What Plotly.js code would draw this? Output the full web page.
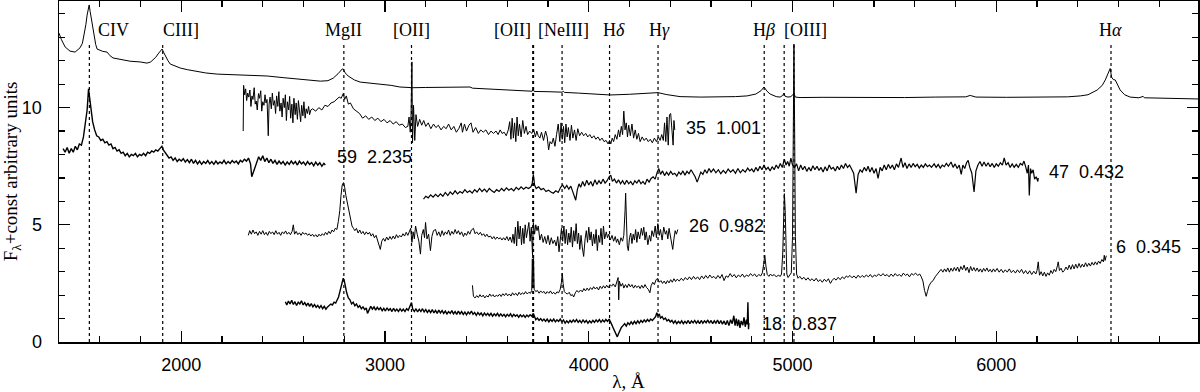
<!DOCTYPE html>
<html>
<head>
<meta charset="utf-8">
<script src="https://cdn.plot.ly/plotly-3.0.1.min.js"></script>
<style>
html, body { margin: 0; padding: 0; background: #fff; }
#chart { width: 1200px; height: 392px; }
</style>
</head>
<body>
<div id="chart"></div>
<script>
// composite spectrum (top)
const composite = [[1400,13.18],[1412,12.90],[1430,12.59],[1454,12.41],[1479,12.37],[1503,12.55],[1515,12.75],[1523,13.10],[1532,13.55],[1538,13.95],[1548,14.38],[1553,14.10],[1557,13.90],[1565,13.40],[1572,13.00],[1580,12.70],[1587,12.50],[1600,12.45],[1615,12.40],[1636,12.37],[1650,12.22],[1665,12.12],[1700,12.07],[1734,12.03],[1749,11.98],[1798,11.95],[1832,11.90],[1850,11.95],[1862,12.03],[1875,12.15],[1886,12.29],[1900,12.45],[1906,12.50],[1914,12.35],[1922,12.20],[1935,12.00],[1946,11.86],[1970,11.76],[1995,11.69],[2030,11.62],[2068,11.56],[2120,11.48],[2177,11.43],[2250,11.40],[2324,11.39],[2380,11.36],[2422,11.35],[2500,11.28],[2583,11.22],[2640,11.18],[2683,11.13],[2720,11.15],[2746,11.26],[2770,11.45],[2790,11.65],[2795,11.65],[2805,11.48],[2819,11.35],[2850,11.18],[2878,11.09],[2940,11.04],[2989,11.01],[3030,10.95],[3073,10.88],[3137,10.85],[3200,10.86],[3280,10.86],[3350,10.85],[3417,10.88],[3430,10.83],[3500,10.80],[3600,10.76],[3700,10.72],[3722,10.70],[3727,10.78],[3732,10.69],[3800,10.68],[3869,10.66],[3875,10.70],[3880,10.65],[3950,10.62],[4030,10.58],[4105,10.54],[4200,10.57],[4300,10.60],[4340,10.64],[4380,10.56],[4448,10.47],[4550,10.45],[4650,10.45],[4720,10.47],[4777,10.50],[4820,10.58],[4845,10.72],[4860,10.88],[4875,10.70],[4890,10.58],[4920,10.47],[4939,10.45],[4952,10.52],[4958,10.62],[4964,10.48],[4978,10.45],[4992,10.47],[5000,10.55],[5007,10.60],[5014,10.45],[5037,10.43],[5150,10.44],[5268,10.43],[5400,10.44],[5550,10.43],[5700,10.45],[5850,10.46],[5872,10.52],[5900,10.45],[6050,10.44],[6200,10.45],[6350,10.46],[6412,10.50],[6450,10.55],[6495,10.75],[6520,10.95],[6535,11.18],[6550,11.45],[6559,11.67],[6566,11.30],[6574,11.20],[6584,11.18],[6595,10.95],[6608,10.75],[6630,10.55],[6657,10.45],[6700,10.42],[6715,10.45],[6721,10.48],[6727,10.42],[6804,10.40],[6900,10.38],[6991,10.37]];

// object 35, z = 1.001
const spec35 = [[2304,9.00],[2306,10.95],[2311,10.55],[2316,10.80],[2321,10.30],[2326,10.62],[2331,10.45],[2337,10.75],[2342,10.05],[2347,10.50],[2352,10.35],[2358,10.85],[2363,10.15],[2368,10.28],[2373,9.90],[2379,10.60],[2384,10.40],[2390,10.72],[2395,9.85],[2400,10.25],[2406,10.10],[2411,10.55],[2416,10.20],[2421,10.35],[2427,8.80],[2431,10.15],[2436,10.45],[2442,9.95],[2447,10.62],[2452,10.10],[2458,10.30],[2463,9.75],[2468,10.50],[2474,10.05],[2479,10.68],[2484,9.85],[2490,10.20],[2495,9.60],[2500,10.40],[2506,10.00],[2511,10.55],[2516,9.45],[2521,10.25],[2527,9.90],[2532,10.48],[2537,9.55],[2543,10.15],[2548,9.35],[2553,10.40],[2559,9.70],[2564,10.20],[2570,9.50],[2575,10.30],[2580,9.80],[2586,9.40],[2591,10.10],[2597,9.65],[2602,10.25],[2608,9.55],[2613,9.95],[2619,9.75],[2625,10.05],[2630,9.70],[2636,9.90],[2645,9.95],[2660,9.85],[2675,10.00],[2690,9.90],[2705,10.10],[2720,10.05],[2735,10.20],[2750,10.25],[2765,10.35],[2775,10.45],[2785,10.40],[2795,10.60],[2802,10.35],[2810,10.50],[2820,10.15],[2830,10.20],[2845,9.95],[2860,9.85],[2875,9.75],[2890,9.55],[2905,9.65],[2920,9.50],[2935,9.60],[2950,9.45],[2965,9.55],[2980,9.40],[2995,9.50],[3010,9.35],[3025,9.45],[3040,9.30],[3055,9.40],[3070,9.25],[3085,9.30],[3100,9.15],[3112,9.20],[3118,9.60],[3124,8.95],[3128,9.75],[3132,11.95],[3135,8.50],[3140,10.10],[3146,8.60],[3152,9.70],[3160,9.20],[3170,9.50],[3180,9.25],[3190,9.45],[3200,9.20],[3212,9.35],[3225,9.10],[3238,9.30],[3250,9.15],[3262,9.25],[3275,9.05],[3288,9.20],[3300,9.10],[3312,9.30],[3325,9.05],[3338,9.20],[3350,8.95],[3362,9.10],[3374,9.35],[3380,8.95],[3390,9.30],[3400,9.00],[3412,9.25],[3422,9.35],[3432,8.95],[3445,9.15],[3458,8.90],[3470,9.05],[3482,8.95],[3495,9.05],[3508,8.85],[3520,9.00],[3532,8.90],[3545,9.00],[3555,8.85],[3565,9.05],[3575,8.90],[3585,8.95],[3595,8.80],[3605,9.05],[3612,9.40],[3618,8.65],[3624,9.55],[3630,8.70],[3636,9.35],[3642,8.55],[3648,9.60],[3654,8.80],[3660,9.30],[3668,8.75],[3676,9.45],[3684,8.90],[3692,9.20],[3700,8.85],[3710,9.00],[3720,8.90],[3730,9.05],[3738,8.75],[3745,9.00],[3752,8.80],[3760,8.70],[3768,8.95],[3778,8.60],[3788,9.00],[3796,8.75],[3803,8.20],[3810,8.55],[3818,8.45],[3826,8.70],[3834,8.35],[3842,8.85],[3850,9.30],[3858,8.55],[3864,9.35],[3870,8.65],[3876,9.20],[3882,8.50],[3888,9.30],[3894,8.75],[3900,9.15],[3908,8.60],[3915,9.25],[3922,8.70],[3930,9.05],[3938,8.60],[3946,9.10],[3955,8.80],[3965,8.95],[3975,8.80],[3985,8.90],[3995,8.75],[4005,8.85],[4015,8.70],[4025,8.80],[4035,8.65],[4045,8.75],[4055,8.60],[4065,8.70],[4075,8.55],[4085,8.60],[4095,8.45],[4102,8.60],[4108,8.45],[4115,8.70],[4122,8.55],[4130,8.85],[4138,8.65],[4146,9.05],[4152,8.75],[4160,9.20],[4166,8.85],[4172,9.85],[4178,9.05],[4184,9.35],[4190,8.75],[4196,9.25],[4204,8.80],[4212,9.30],[4220,8.70],[4228,9.05],[4236,8.65],[4244,8.90],[4252,8.55],[4262,8.75],[4272,8.60],[4282,8.70],[4292,8.55],[4302,8.65],[4312,8.50],[4322,8.70],[4332,8.55],[4342,8.75],[4350,8.60],[4358,8.85],[4366,8.60],[4372,9.35],[4378,8.55],[4384,9.60],[4390,8.40],[4396,9.70],[4402,9.75],[4408,8.80],[4414,8.40],[4418,9.45],[4422,9.05]];

// object 59, z = 2.235
const spec59 = [[1420,8.25],[1430,8.10],[1440,8.30],[1450,8.05],[1460,8.25],[1470,8.10],[1480,8.35],[1490,8.20],[1500,8.45],[1510,8.40],[1520,8.75],[1530,9.30],[1538,9.90],[1545,10.80],[1550,10.45],[1556,9.95],[1565,9.40],[1575,9.05],[1585,8.80],[1595,8.75],[1605,8.60],[1615,8.65],[1625,8.50],[1635,8.55],[1645,8.40],[1655,8.45],[1665,8.25],[1675,8.30],[1685,8.15],[1695,8.20],[1705,8.05],[1715,8.10],[1725,7.95],[1735,8.05],[1745,7.90],[1755,8.00],[1765,7.95],[1775,8.05],[1785,7.90],[1795,8.00],[1805,7.95],[1815,8.05],[1825,7.95],[1835,8.10],[1845,8.05],[1855,8.15],[1865,8.10],[1875,8.20],[1885,8.15],[1895,8.25],[1905,8.35],[1912,8.20],[1920,8.10],[1930,7.95],[1940,7.85],[1950,7.90],[1960,7.75],[1970,7.85],[1980,7.70],[1990,7.80],[2000,7.72],[2010,7.82],[2020,7.68],[2030,7.78],[2040,7.65],[2050,7.80],[2060,7.62],[2070,7.75],[2080,7.60],[2090,7.72],[2100,7.58],[2110,7.70],[2120,7.62],[2130,7.74],[2140,7.60],[2150,7.70],[2160,7.58],[2170,7.72],[2180,7.60],[2190,7.68],[2200,7.62],[2210,7.75],[2220,7.60],[2230,7.70],[2240,7.62],[2250,7.74],[2260,7.65],[2270,7.72],[2280,7.60],[2290,7.75],[2300,7.68],[2310,7.80],[2320,7.72],[2330,7.85],[2340,7.60],[2346,7.05],[2352,7.20],[2360,7.45],[2370,7.70],[2380,7.90],[2390,7.75],[2400,7.95],[2410,7.70],[2420,7.85],[2430,7.65],[2440,7.80],[2450,7.62],[2460,7.75],[2470,7.58],[2480,7.72],[2490,7.60],[2500,7.70],[2510,7.55],[2520,7.68],[2530,7.58],[2540,7.72],[2550,7.60],[2560,7.70],[2570,7.55],[2580,7.72],[2590,7.60],[2600,7.68],[2610,7.55],[2620,7.70],[2630,7.58],[2640,7.66],[2650,7.52],[2660,7.68],[2670,7.55],[2680,7.65],[2690,7.50],[2700,7.62],[2707,7.55]];

// object 47, z = 0.432
const spec47 = [[3189,6.10],[3200,6.22],[3212,6.15],[3224,6.28],[3236,6.18],[3248,6.30],[3260,6.20],[3272,6.32],[3284,6.22],[3296,6.38],[3308,6.25],[3320,6.40],[3332,6.30],[3344,6.45],[3356,6.32],[3368,6.42],[3380,6.35],[3392,6.50],[3404,6.38],[3416,6.45],[3428,6.35],[3440,6.50],[3452,6.40],[3464,6.55],[3476,6.42],[3488,6.52],[3500,6.40],[3512,6.55],[3524,6.45],[3536,6.38],[3548,6.50],[3560,6.42],[3572,6.55],[3584,6.45],[3596,6.58],[3608,6.48],[3620,6.55],[3632,6.45],[3644,6.60],[3656,6.50],[3668,6.62],[3680,6.52],[3692,6.60],[3704,6.55],[3716,6.62],[3722,6.75],[3728,7.15],[3734,6.70],[3742,6.55],[3754,6.62],[3766,6.50],[3778,6.55],[3790,6.42],[3802,6.48],[3814,6.40],[3826,6.35],[3838,6.45],[3850,6.38],[3862,6.60],[3872,6.70],[3882,6.55],[3892,6.68],[3902,6.52],[3912,6.65],[3920,6.45],[3928,6.20],[3936,6.05],[3944,6.50],[3952,6.75],[3960,6.60],[3970,6.85],[3980,6.65],[3990,6.90],[4000,6.70],[4010,6.85],[4020,6.65],[4030,6.92],[4040,6.72],[4050,6.88],[4060,6.75],[4070,6.95],[4080,6.78],[4090,6.88],[4100,7.05],[4108,7.12],[4116,6.85],[4126,6.95],[4136,6.78],[4146,6.92],[4156,6.75],[4166,6.88],[4176,6.72],[4186,6.90],[4196,6.75],[4206,6.85],[4216,6.70],[4226,6.88],[4236,6.78],[4246,6.92],[4256,6.75],[4266,6.85],[4276,6.72],[4286,6.95],[4296,6.82],[4306,6.98],[4316,7.05],[4326,6.95],[4336,7.25],[4344,7.40],[4352,7.15],[4362,7.30],[4372,7.10],[4382,7.25],[4392,7.12],[4402,7.28],[4412,7.15],[4422,7.20],[4432,7.08],[4442,7.25],[4452,7.15],[4462,7.30],[4472,7.12],[4482,7.28],[4492,7.18],[4502,7.35],[4512,7.20],[4522,7.05],[4532,6.82],[4540,7.00],[4550,7.25],[4560,7.15],[4570,7.35],[4580,7.20],[4590,7.40],[4600,7.25],[4612,7.38],[4624,7.22],[4636,7.35],[4648,7.18],[4660,7.32],[4672,7.20],[4684,7.38],[4696,7.25],[4708,7.35],[4720,7.20],[4732,7.40],[4744,7.22],[4756,7.35],[4768,7.25],[4780,7.42],[4790,7.30],[4800,7.38],[4810,7.25],[4820,7.45],[4830,7.30],[4840,7.50],[4850,7.35],[4860,7.55],[4870,7.35],[4880,7.45],[4890,7.30],[4900,7.48],[4910,7.35],[4920,7.55],[4930,7.40],[4940,7.62],[4950,7.45],[4960,7.80],[4968,7.55],[4976,7.70],[4984,7.50],[4992,7.85],[5000,7.55],[5010,7.45],[5020,7.60],[5030,7.30],[5040,7.55],[5050,7.35],[5060,7.50],[5070,7.28],[5080,7.45],[5090,7.30],[5100,7.52],[5110,7.35],[5120,7.50],[5130,7.32],[5140,7.45],[5150,7.25],[5160,7.48],[5170,7.30],[5180,7.55],[5190,7.38],[5200,7.45],[5210,7.30],[5220,7.50],[5230,7.35],[5240,7.55],[5250,7.40],[5260,7.62],[5270,7.45],[5280,7.55],[5290,7.35],[5300,7.20],[5312,6.35],[5322,7.15],[5332,7.35],[5342,7.25],[5352,7.45],[5362,7.30],[5371,7.50],[5380,7.25],[5390,7.45],[5400,7.20],[5410,7.40],[5420,6.98],[5430,7.45],[5440,7.30],[5450,7.55],[5460,7.35],[5470,7.58],[5480,7.40],[5490,7.55],[5500,7.35],[5510,7.60],[5520,7.45],[5533,7.85],[5542,7.45],[5552,7.65],[5562,7.40],[5572,7.60],[5582,7.45],[5592,7.62],[5602,7.48],[5612,7.58],[5622,7.42],[5632,7.55],[5642,7.45],[5652,7.60],[5662,7.48],[5672,7.55],[5682,7.45],[5695,7.60],[5705,7.45],[5715,7.58],[5725,7.42],[5735,7.55],[5745,7.48],[5755,7.62],[5765,7.50],[5778,7.68],[5788,7.45],[5798,7.60],[5808,7.40],[5818,7.55],[5828,7.15],[5836,7.55],[5845,7.40],[5854,7.65],[5862,7.75],[5870,7.45],[5880,7.20],[5891,6.40],[5900,7.30],[5910,7.55],[5920,7.70],[5930,7.50],[5940,7.68],[5950,7.50],[5960,7.65],[5970,7.48],[5980,7.62],[5990,7.45],[6000,7.60],[6010,7.50],[6020,7.65],[6030,7.55],[6039,7.85],[6048,7.55],[6058,7.65],[6068,7.45],[6078,7.60],[6088,7.45],[6098,7.58],[6108,7.45],[6118,7.62],[6128,7.55],[6136,7.72],[6145,7.45],[6152,7.20],[6158,7.55],[6162,6.25],[6168,7.40],[6174,7.20],[6181,7.35],[6188,6.95],[6196,7.05],[6204,6.85],[6206,7.00]];

// object 26, z = 0.982
const spec26 = [[2329,4.55],[2336,4.75],[2344,4.60],[2352,4.78],[2360,4.62],[2368,4.70],[2376,4.55],[2384,4.72],[2392,4.60],[2400,4.75],[2408,4.58],[2416,4.68],[2424,4.55],[2432,4.72],[2440,4.62],[2448,4.70],[2456,4.58],[2464,4.75],[2472,4.60],[2480,4.68],[2488,4.55],[2496,4.70],[2504,4.62],[2512,4.74],[2520,4.60],[2528,4.68],[2536,4.58],[2544,4.72],[2550,5.00],[2556,4.60],[2564,4.72],[2572,4.58],[2580,4.66],[2588,4.55],[2596,4.68],[2604,4.60],[2612,4.65],[2620,4.55],[2628,4.62],[2636,4.52],[2644,4.60],[2652,4.50],[2660,4.58],[2668,4.48],[2676,4.60],[2684,4.52],[2692,4.62],[2700,4.55],[2708,4.68],[2716,4.58],[2724,4.72],[2732,4.62],[2740,4.78],[2748,4.70],[2756,4.85],[2764,4.80],[2771,5.15],[2778,5.60],[2784,6.25],[2790,6.70],[2796,6.80],[2802,6.60],[2808,6.25],[2815,5.95],[2822,5.50],[2830,5.25],[2838,4.95],[2845,4.85],[2852,4.75],[2860,4.85],[2868,4.65],[2876,4.78],[2884,4.62],[2892,4.72],[2900,4.58],[2908,4.70],[2916,4.60],[2924,4.68],[2932,4.52],[2940,4.62],[2948,4.45],[2956,4.55],[2964,4.35],[2970,4.20],[2977,3.95],[2984,4.30],[2992,4.42],[3000,4.30],[3008,4.48],[3016,4.35],[3024,4.50],[3032,4.38],[3040,4.52],[3048,4.40],[3056,4.58],[3064,4.45],[3072,4.55],[3080,4.48],[3088,4.62],[3096,4.52],[3104,4.68],[3112,4.55],[3120,4.75],[3126,4.85],[3132,4.25],[3138,4.70],[3144,4.40],[3150,4.95],[3158,4.60],[3166,4.30],[3174,3.75],[3180,4.55],[3188,4.80],[3194,4.45],[3199,5.10],[3206,4.40],[3214,4.60],[3223,3.90],[3230,4.50],[3238,4.75],[3248,4.80],[3256,4.55],[3264,4.70],[3272,4.50],[3280,4.75],[3288,4.55],[3296,4.70],[3304,4.60],[3312,4.78],[3320,4.55],[3328,4.72],[3336,4.60],[3344,4.80],[3352,4.62],[3360,4.75],[3368,4.58],[3376,4.70],[3385,4.50],[3392,4.65],[3400,4.55],[3408,4.72],[3416,4.60],[3424,4.78],[3434,4.85],[3442,4.62],[3450,4.70],[3459,4.58],[3468,4.68],[3476,4.55],[3484,4.62],[3492,4.50],[3500,4.60],[3508,4.48],[3518,4.52],[3526,4.40],[3534,4.50],[3542,4.38],[3550,4.48],[3558,4.40],[3566,4.45],[3574,4.35],[3582,4.45],[3590,4.35],[3598,4.50],[3606,4.32],[3614,4.48],[3622,4.25],[3628,4.60],[3634,4.20],[3640,4.90],[3646,4.10],[3652,5.15],[3658,4.40],[3664,4.95],[3670,4.15],[3676,4.85],[3682,4.20],[3688,5.00],[3694,4.45],[3700,4.85],[3706,5.10],[3712,4.30],[3718,4.90],[3724,3.70],[3728,5.10],[3734,4.60],[3740,5.00],[3746,4.75],[3752,4.95],[3760,4.35],[3768,4.60],[3776,4.25],[3784,4.50],[3792,4.20],[3800,4.55],[3808,4.15],[3816,4.45],[3824,4.20],[3832,4.35],[3840,4.10],[3848,4.50],[3854,3.85],[3860,4.55],[3866,4.85],[3872,4.30],[3878,4.95],[3884,4.20],[3890,4.80],[3896,4.15],[3902,4.65],[3908,4.25],[3914,4.90],[3920,4.05],[3926,4.75],[3932,4.30],[3938,5.05],[3944,4.20],[3950,4.65],[3956,3.95],[3962,4.55],[3968,4.05],[3975,3.65],[3982,4.40],[3988,4.75],[3994,4.25],[4000,4.90],[4006,4.35],[4012,4.70],[4018,4.10],[4024,4.60],[4030,4.20],[4036,4.80],[4042,3.90],[4048,4.55],[4054,4.25],[4060,4.85],[4066,4.15],[4072,4.95],[4078,4.40],[4086,4.70],[4092,4.45],[4098,4.60],[4106,4.35],[4114,4.55],[4122,4.30],[4130,4.50],[4136,4.25],[4142,4.40],[4150,4.15],[4158,4.45],[4166,4.30],[4172,4.55],[4178,5.60],[4181,6.35],[4185,5.20],[4189,4.10],[4194,3.90],[4200,4.45],[4206,4.65],[4212,4.20],[4218,4.60],[4224,4.35],[4230,4.80],[4236,4.25],[4242,4.70],[4250,4.40],[4258,4.85],[4264,4.55],[4270,4.90],[4276,4.35],[4282,4.70],[4290,4.15],[4298,4.55],[4304,4.30],[4310,4.75],[4318,4.50],[4326,4.95],[4332,4.45],[4339,5.05],[4346,4.55],[4352,4.80],[4360,4.35],[4368,4.90],[4376,4.60],[4382,4.75],[4388,4.40],[4394,4.85],[4400,4.50],[4406,4.30],[4412,3.95],[4418,4.40],[4424,4.75],[4430,4.60],[4437,4.80]];

// object 6, z = 0.345
const spec6 = [[3429,2.42],[3434,1.95],[3442,1.88],[3450,1.98],[3458,1.90],[3466,2.02],[3474,1.92],[3482,2.00],[3490,1.88],[3498,1.98],[3506,1.92],[3514,2.05],[3522,1.95],[3530,2.02],[3538,1.92],[3546,2.00],[3554,1.95],[3562,2.04],[3570,1.94],[3578,2.06],[3586,1.98],[3594,2.08],[3602,1.97],[3610,2.05],[3618,1.96],[3626,2.10],[3634,2.00],[3642,2.08],[3650,1.98],[3658,2.12],[3666,2.02],[3674,2.10],[3682,2.04],[3690,2.15],[3698,2.05],[3706,2.12],[3714,2.08],[3720,2.20],[3723,3.55],[3726,2.30],[3729,3.57],[3732,2.25],[3740,2.15],[3748,2.20],[3756,2.08],[3764,2.18],[3772,2.10],[3780,2.16],[3788,2.05],[3796,2.15],[3804,2.08],[3812,2.18],[3820,2.06],[3828,2.12],[3836,2.04],[3844,2.14],[3852,2.10],[3860,2.25],[3866,2.55],[3870,2.93],[3874,2.50],[3880,2.15],[3888,2.08],[3896,2.05],[3904,2.12],[3912,1.98],[3920,2.02],[3926,1.92],[3934,2.10],[3942,2.20],[3950,2.12],[3960,2.22],[3968,2.14],[3976,2.28],[3984,2.18],[3992,2.30],[4000,2.20],[4008,2.32],[4016,2.24],[4024,2.36],[4032,2.26],[4040,2.34],[4048,2.22],[4056,2.38],[4064,2.28],[4072,2.40],[4080,2.30],[4088,2.42],[4096,2.32],[4104,2.45],[4112,2.38],[4120,2.48],[4130,2.35],[4138,2.55],[4144,2.75],[4147,1.80],[4150,2.60],[4158,2.38],[4166,2.50],[4172,2.30],[4180,2.45],[4188,2.32],[4196,2.48],[4204,2.35],[4212,2.45],[4220,2.30],[4228,2.42],[4236,2.32],[4244,2.40],[4252,2.28],[4260,2.42],[4268,2.30],[4276,2.45],[4284,2.32],[4292,2.25],[4300,2.10],[4306,2.40],[4314,2.55],[4322,2.45],[4330,2.65],[4338,2.72],[4346,2.55],[4354,2.62],[4362,2.50],[4370,2.60],[4378,2.48],[4386,2.62],[4394,2.52],[4402,2.66],[4410,2.55],[4418,2.70],[4426,2.58],[4434,2.68],[4444,2.60],[4454,2.72],[4464,2.62],[4474,2.75],[4484,2.65],[4494,2.78],[4504,2.66],[4514,2.80],[4524,2.68],[4534,2.78],[4544,2.66],[4554,2.82],[4564,2.70],[4574,2.84],[4584,2.72],[4594,2.86],[4604,2.74],[4614,2.80],[4624,2.70],[4634,2.84],[4644,2.72],[4654,2.88],[4664,2.62],[4674,2.82],[4684,2.76],[4694,2.92],[4704,2.78],[4714,2.88],[4724,2.74],[4734,2.86],[4744,2.78],[4754,2.90],[4764,2.76],[4774,2.86],[4784,2.80],[4794,2.92],[4804,2.82],[4814,2.90],[4824,2.78],[4834,2.88],[4844,2.82],[4852,2.95],[4858,3.30],[4864,3.70],[4870,3.20],[4876,2.88],[4884,2.80],[4892,2.90],[4900,2.82],[4910,2.88],[4920,2.78],[4930,2.85],[4940,2.80],[4946,2.90],[4952,3.80],[4956,5.60],[4960,6.33],[4964,5.60],[4968,3.70],[4972,2.90],[4978,2.75],[4986,2.85],[4994,2.95],[5000,4.50],[5004,9.50],[5007,12.71],[5010,9.50],[5014,4.50],[5020,2.90],[5027,2.72],[5036,2.80],[5046,2.68],[5056,2.76],[5066,2.64],[5076,2.74],[5086,2.62],[5096,2.70],[5106,2.60],[5116,2.72],[5126,2.58],[5136,2.66],[5146,2.55],[5156,2.68],[5166,2.58],[5176,2.70],[5186,2.50],[5194,2.62],[5204,2.72],[5214,2.64],[5224,2.76],[5234,2.66],[5244,2.78],[5254,2.70],[5264,2.82],[5272,2.76],[5282,2.84],[5292,2.74],[5302,2.82],[5312,2.72],[5322,2.85],[5332,2.75],[5342,2.84],[5352,2.76],[5362,2.86],[5372,2.78],[5382,2.88],[5392,2.76],[5402,2.86],[5412,2.80],[5422,2.90],[5434,2.82],[5444,2.92],[5454,2.82],[5464,2.88],[5474,2.78],[5484,2.90],[5494,2.80],[5504,2.92],[5514,2.82],[5524,2.88],[5534,2.80],[5544,2.94],[5554,2.84],[5564,2.90],[5574,2.78],[5584,2.92],[5594,2.86],[5604,2.94],[5614,2.84],[5624,2.90],[5632,2.78],[5640,2.60],[5648,2.20],[5656,1.95],[5662,2.15],[5670,2.40],[5680,2.55],[5690,2.62],[5700,2.78],[5710,2.88],[5720,3.02],[5729,3.10],[5738,2.98],[5746,3.12],[5754,3.00],[5762,3.16],[5770,2.98],[5778,3.15],[5786,3.02],[5794,3.18],[5802,3.04],[5810,3.20],[5818,3.00],[5826,3.22],[5834,3.08],[5842,3.28],[5850,3.05],[5858,3.20],[5866,2.96],[5874,3.22],[5882,3.04],[5890,3.18],[5898,3.02],[5906,3.16],[5914,3.00],[5922,3.12],[5930,2.98],[5938,3.14],[5946,3.02],[5954,3.16],[5962,3.00],[5970,3.10],[5978,2.98],[5986,3.12],[5994,3.00],[6004,3.14],[6014,2.98],[6024,3.10],[6034,2.96],[6044,3.08],[6054,2.98],[6064,3.12],[6074,2.96],[6084,3.06],[6094,2.94],[6104,3.08],[6114,2.96],[6124,3.10],[6134,2.92],[6144,3.05],[6154,2.90],[6164,3.04],[6174,2.88],[6184,3.02],[6194,2.90],[6200,3.05],[6206,3.42],[6212,2.85],[6220,3.00],[6228,2.82],[6236,2.98],[6244,2.80],[6252,2.95],[6260,2.85],[6268,3.05],[6276,2.92],[6284,3.10],[6292,3.00],[6300,3.25],[6304,3.42],[6310,3.05],[6318,3.15],[6326,2.98],[6334,3.05],[6342,3.20],[6350,3.08],[6358,3.28],[6366,3.10],[6374,3.30],[6382,3.12],[6390,3.32],[6398,3.15],[6406,3.35],[6414,3.18],[6422,3.32],[6430,3.20],[6438,3.38],[6446,3.22],[6454,3.36],[6462,3.24],[6470,3.40],[6478,3.28],[6486,3.42],[6494,3.30],[6502,3.45],[6510,3.35],[6518,3.52],[6526,3.42],[6530,3.70],[6534,3.48],[6540,3.68]];

// object 18, z = 0.837
const spec18 = [[2511,1.72],[2518,1.58],[2526,1.75],[2534,1.62],[2542,1.78],[2550,1.60],[2558,1.72],[2566,1.56],[2574,1.70],[2582,1.62],[2590,1.76],[2598,1.58],[2606,1.68],[2614,1.55],[2622,1.66],[2630,1.52],[2638,1.64],[2646,1.50],[2654,1.60],[2662,1.48],[2670,1.56],[2678,1.45],[2686,1.55],[2694,1.42],[2702,1.52],[2710,1.40],[2718,1.50],[2726,1.55],[2734,1.62],[2742,1.58],[2750,1.70],[2758,1.66],[2766,1.80],[2772,1.92],[2780,2.20],[2788,2.50],[2795,2.72],[2800,2.62],[2806,2.30],[2812,2.10],[2820,1.88],[2828,1.80],[2836,1.62],[2844,1.70],[2852,1.55],[2860,1.62],[2868,1.48],[2876,1.55],[2884,1.42],[2892,1.50],[2900,1.38],[2908,1.45],[2914,1.22],[2922,1.40],[2930,1.52],[2938,1.40],[2946,1.50],[2954,1.36],[2962,1.48],[2970,1.38],[2978,1.46],[2986,1.34],[2994,1.44],[3002,1.32],[3010,1.46],[3018,1.35],[3026,1.42],[3034,1.30],[3042,1.44],[3050,1.32],[3058,1.40],[3066,1.30],[3074,1.42],[3082,1.32],[3090,1.40],[3098,1.30],[3106,1.42],[3114,1.35],[3122,1.50],[3130,1.68],[3136,1.40],[3144,1.30],[3152,1.42],[3160,1.28],[3168,1.40],[3176,1.30],[3184,1.42],[3192,1.28],[3200,1.38],[3208,1.26],[3216,1.36],[3224,1.25],[3232,1.38],[3240,1.24],[3248,1.35],[3256,1.22],[3264,1.36],[3272,1.24],[3280,1.34],[3288,1.22],[3296,1.32],[3304,1.20],[3312,1.30],[3320,1.22],[3328,1.34],[3336,1.20],[3344,1.30],[3352,1.18],[3360,1.32],[3368,1.20],[3376,1.30],[3384,1.18],[3392,1.28],[3400,1.16],[3408,1.28],[3416,1.20],[3424,1.32],[3432,1.18],[3440,1.26],[3448,1.14],[3456,1.26],[3464,1.16],[3472,1.24],[3480,1.12],[3488,1.24],[3496,1.14],[3504,1.22],[3512,1.12],[3520,1.22],[3528,1.10],[3536,1.20],[3544,1.12],[3552,1.22],[3560,1.10],[3568,1.20],[3576,1.10],[3584,1.18],[3592,1.08],[3600,1.18],[3608,1.10],[3616,1.20],[3624,1.08],[3632,1.18],[3640,1.10],[3648,1.16],[3656,1.06],[3664,1.16],[3672,1.08],[3680,1.15],[3688,1.05],[3696,1.15],[3704,1.08],[3712,1.16],[3720,1.10],[3728,1.22],[3734,1.05],[3740,0.95],[3748,1.02],[3756,0.92],[3764,1.00],[3772,0.90],[3780,0.98],[3788,0.88],[3796,0.98],[3804,0.86],[3812,0.96],[3820,0.88],[3828,0.98],[3836,0.86],[3844,0.95],[3852,0.88],[3860,0.98],[3868,0.86],[3876,0.94],[3884,0.80],[3892,0.90],[3900,0.82],[3908,0.92],[3916,0.84],[3924,0.94],[3932,0.86],[3940,0.96],[3948,0.84],[3956,0.92],[3964,0.82],[3972,0.94],[3980,0.84],[3988,0.92],[3996,0.80],[4004,0.90],[4012,0.82],[4020,0.92],[4028,0.84],[4036,0.94],[4044,0.86],[4052,0.96],[4060,0.84],[4068,0.94],[4076,0.86],[4084,0.96],[4092,0.88],[4100,0.98],[4108,0.86],[4114,0.72],[4120,0.60],[4128,0.45],[4134,0.30],[4140,0.22],[4146,0.35],[4152,0.50],[4160,0.62],[4168,0.70],[4176,0.78],[4184,0.68],[4192,0.82],[4200,0.74],[4208,0.86],[4216,0.76],[4224,0.88],[4232,0.78],[4240,0.90],[4248,0.80],[4256,0.92],[4264,0.84],[4272,0.94],[4280,0.86],[4288,0.96],[4296,0.88],[4304,0.98],[4312,0.92],[4320,1.02],[4328,1.08],[4334,1.25],[4340,1.10],[4346,1.20],[4352,1.02],[4360,1.08],[4368,0.96],[4376,1.02],[4384,0.90],[4392,0.96],[4400,0.86],[4408,0.92],[4416,0.80],[4424,0.90],[4432,0.78],[4440,0.88],[4448,0.80],[4456,0.90],[4464,0.78],[4472,0.88],[4480,0.80],[4488,0.92],[4496,0.78],[4504,0.90],[4512,0.82],[4520,0.92],[4528,0.80],[4536,0.90],[4544,0.78],[4552,0.92],[4560,0.80],[4568,0.90],[4576,0.82],[4584,0.94],[4592,0.80],[4600,0.92],[4608,0.78],[4616,0.90],[4624,0.80],[4632,0.94],[4640,0.78],[4648,0.92],[4656,0.76],[4664,0.90],[4672,0.74],[4680,0.92],[4688,0.70],[4696,0.95],[4704,0.78],[4712,1.12],[4718,0.70],[4724,1.00],[4730,0.68],[4736,0.95],[4742,0.60],[4748,0.90],[4756,0.72],[4762,1.05],[4768,0.65],[4774,0.95],[4778,0.75],[4781,1.70],[4784,0.55],[4786,0.80]];

// emission lines: rest wavelengths and labels
const lineWl    = [1549, 1909, 2798, 3130, 3727, 3869, 4102, 4340, 4861, 4959, 5007, 6563];
const labelText = ['CIV', 'CIII]', 'MgII', '[OII]', '[OII]', '[NeIII]', 'H<i>δ</i>', 'H<i>γ</i>', 'H<i>β</i>', '[OIII]', 'H<i>α</i>'];
const labelWl   = [1668, 2000, 2798, 3128, 3628, 3874, 4124, 4345, 4860, 5066, 6562];

// spectrum tags: "number  redshift"
const tagText = ['35\u00a0\u00a01.001', '59\u00a0\u00a02.235', '47\u00a0\u00a00.432', '26\u00a0\u00a00.982', '6\u00a0\u00a00.345', '18\u00a0\u00a00.837'];
const tagWl   = [4468, 2755, 6250, 4484, 6576, 4842];
const tagFlux = [9.13, 7.89, 7.25, 4.95, 4.05, 0.77];

const lineTop = 12.75;
const xRange = [1400, 6990];
const yRange = [0, 14.55];

function trace(data, w) {
    return {
        x: data.map(p => p[0]),
        y: data.map(p => p[1]),
        type: 'scatter', mode: 'lines',
        line: { color: '#000', width: w },
        hoverinfo: 'skip', showlegend: false
    };
}

const traces = [
    trace(composite, 1),
    trace(spec35, 1),
    trace(spec59, 1.4),
    trace(spec47, 1.2),
    trace(spec26, 1),
    trace(spec6, 1),
    trace(spec18, 1.4),
    // empty trace so the mirrored top/right axes get drawn
    { x: [], y: [], xaxis: 'x2', yaxis: 'y2', type: 'scatter', mode: 'lines', showlegend: false, hoverinfo: 'skip' }
];

const shapes = lineWl.map(wl => ({
    type: 'line', xref: 'x', yref: 'y',
    x0: wl, x1: wl, y0: 0, y1: lineTop,
    line: { color: '#000', width: wl === 3727 ? 2 : 1.2, dash: '3px,3px' },
    layer: 'below'
}));

const serif = 'Liberation Serif, Times New Roman, serif';
const sans  = 'Liberation Sans, Arial, sans-serif';

const annotations = labelText.map((t, i) => ({
    x: labelWl[i], y: 13.3, xref: 'x', yref: 'y',
    text: t, showarrow: false, xanchor: 'center', yanchor: 'middle',
    font: { family: serif, size: 18, color: '#000' }
})).concat(tagText.map((t, i) => ({
    x: tagWl[i], y: tagFlux[i], xref: 'x', yref: 'y',
    text: t, showarrow: false, xanchor: 'left', yanchor: 'middle',
    font: { family: sans, size: 18, color: '#000' }
})));

const tickStyle = {
    ticks: 'inside', tickcolor: '#000', tickwidth: 1.3, ticklen: 11,
    showgrid: false, zeroline: false
};
const minorX = { tick0: 0, dtick: 200, ticks: 'inside', ticklen: 6, tickcolor: '#000', tickwidth: 1.2, showgrid: false };
const minorY = { tick0: 0, dtick: 1, ticks: 'inside', ticklen: 6, tickcolor: '#000', tickwidth: 1.2, showgrid: false };

const layout = {
    width: 1200, height: 392,
    margin: { l: 59, r: 2, t: 1, b: 50 },
    paper_bgcolor: '#fff', plot_bgcolor: '#fff',
    showlegend: false,
    xaxis: Object.assign({}, tickStyle, {
        range: xRange, tick0: 0, dtick: 1000, minor: minorX,
        showline: true, linecolor: '#000', linewidth: 1.5, mirror: true,
        ticklabelstandoff: 6,
        tickfont: { family: sans, size: 18, color: '#000' },
        title: { text: 'λ, Å', font: { family: serif, size: 19, color: '#000' }, standoff: 6 }
    }),
    yaxis: Object.assign({}, tickStyle, {
        range: yRange, tick0: 0, dtick: 5, minor: minorY,
        showline: true, linecolor: '#000', linewidth: 1.5, mirror: true,
        ticklabelstandoff: 12,
        tickfont: { family: sans, size: 18, color: '#000' },
        title: { text: 'F<sub>λ</sub>+const arbitrary units', font: { family: serif, size: 19, color: '#000' }, standoff: 8 }
    }),
    xaxis2: Object.assign({}, tickStyle, {
        overlaying: 'x', side: 'top', anchor: 'y2',
        range: xRange, tick0: 0, dtick: 1000, minor: minorX,
        showticklabels: false, showline: false
    }),
    yaxis2: Object.assign({}, tickStyle, {
        overlaying: 'y', side: 'right', anchor: 'x2',
        range: yRange, tick0: 0, dtick: 5, minor: minorY,
        showticklabels: false, showline: false
    }),
    shapes: shapes,
    annotations: annotations
};

Plotly.newPlot('chart', traces, layout, { displayModeBar: false, staticPlot: true });
</script>
</body>
</html>
